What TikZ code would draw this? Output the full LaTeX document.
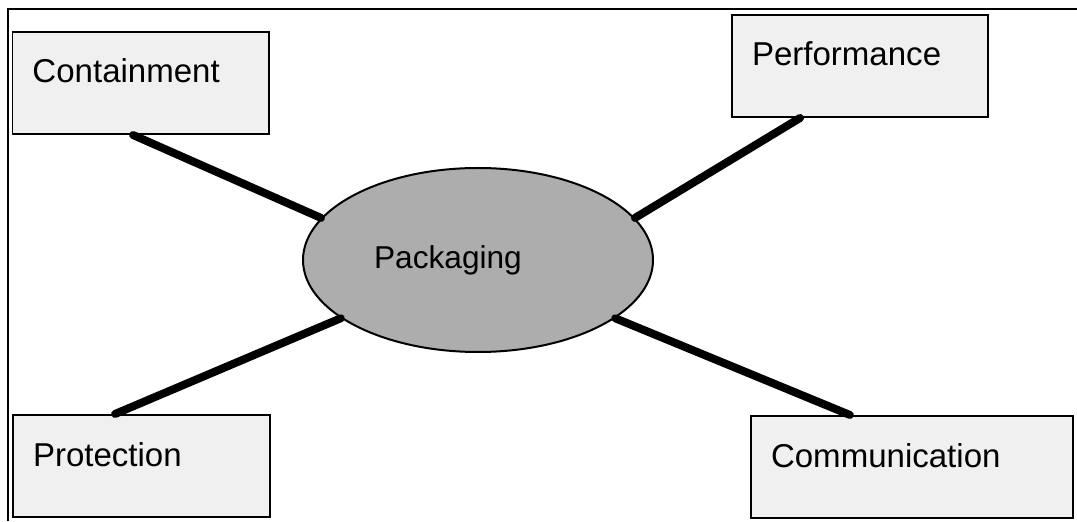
\documentclass[tikz,border=0pt]{standalone}
\usepackage{fontspec}
\setmainfont{Liberation Sans}
\usepackage{xcolor}
\usepackage{tikz}
\usetikzlibrary{shapes.geometric}
\tikzset{
box/.style={
draw,
line width=0.04cm,
fill=black!6,
inner xsep=0.4cm,
inner ysep=0.12cm,
text height=0.9cm,
text depth=0.9cm,
align=left,
font=\fontsize{18.8pt}{22pt}\selectfont
},
hub/.style={
draw,
ellipse,
line width=0.04cm,
fill=black!32,
inner sep=0pt,
minimum width=7cm,
minimum height=3.68cm,
font=\fontsize{18pt}{22pt}\selectfont
},
link/.style={
line width=0.16cm,
line cap=round
}
}
\begin{document}
\begin{tikzpicture}
\useasboundingbox (0,0) rectangle (21.54,10.42);
\draw[line width=0.04cm] (0.16,0) |- (21.54,10.24);

\node[hub](pack) at (9.56,5.22) {Packaging\hspace*{1.2cm}};
\node[box,text width=4.32cm](cont) at (2.81,8.76) {Containment};
\node[box,text width=4.32cm](perf) at (17.2,9.10) {Performance};
\node[box,text width=4.34cm](prot) at (2.83,1.10) {Protection};
\node[box,text width=5.64cm](comm) at (18.24,1.08) {Communication};

\foreach \b/\s/\a in {cont.south/-0.15/165,perf.south/-1.2/15,prot.north/-0.53/203,comm.north/-1.24/337}
\draw[link]([xshift=\s cm]\b)--(pack.\a);
\end{tikzpicture}
\end{document}
